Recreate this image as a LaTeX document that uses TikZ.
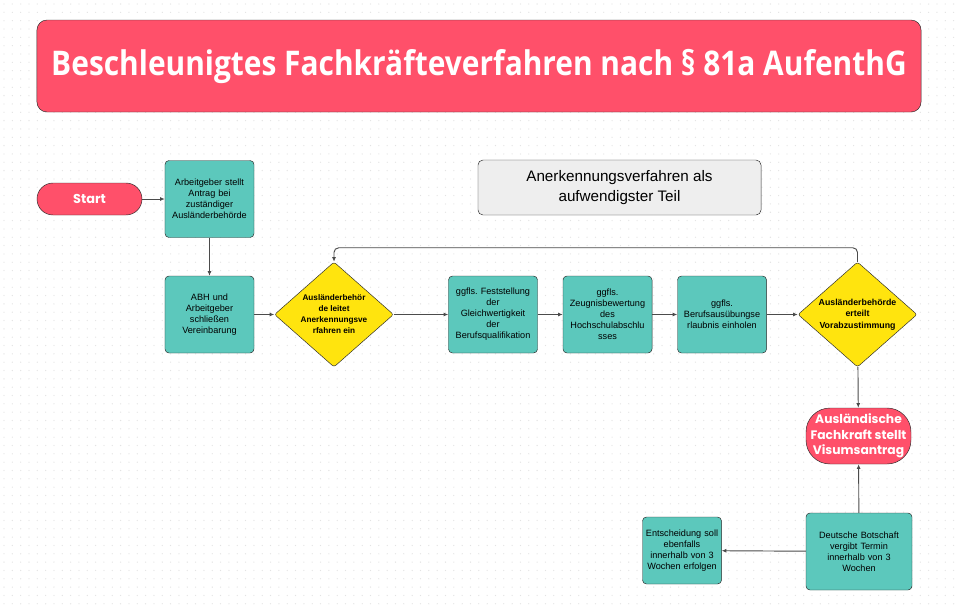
\documentclass[tikz,border=0pt]{standalone}
\usepackage{fontspec}
\setmainfont{Liberation Sans}
\newfontfamily\titlefont{Open Sans}[FakeStretch=0.88]
\newfontfamily\pillfont{Poppins}
\usepackage{tikz}
\usetikzlibrary{positioning,arrows.meta,shapes.geometric}
\usepackage{xcolor}
\definecolor{flowpink}{RGB}{255,80,106}
\definecolor{flowteal}{RGB}{92,200,188}
\definecolor{flowyellow}{RGB}{255,228,14}
\definecolor{flowline}{RGB}{43,43,43}
\definecolor{notegray}{RGB}{238,238,238}
\frenchspacing

\begin{document}
\begin{tikzpicture}[x=0.03cm, y=-0.03cm,
  stepbox/.style={draw=flowline, fill=flowteal, rounded corners=0.12cm, minimum width=2.67cm, minimum height=2.31cm, text width=2.6cm, align=center, inner sep=1pt, font=\fontsize{7.8}{9.4}\selectfont},
  decision/.style={diamond, draw=flowline, fill=flowyellow, rounded corners=2pt, minimum width=3.57cm, minimum height=3.15cm, aspect=1.13, align=center, inner sep=0pt, font=\bfseries\fontsize{7}{9.4}\selectfont},
  terminal/.style={draw=flowline, fill=flowpink, minimum width=3.15cm, text=white, align=center, inner sep=1pt, font=\pillfont\bfseries\fontsize{10.5}{13.4}\selectfont},
  arr/.style={-{Latex[length=4pt,width=3.5pt]}, draw=flowline!85, line width=0.8pt}]
% background with dot grid
\fill[white] (0,0) rectangle (955,608);
\foreach \j in {0,...,72}{
  \fill[gray!22] \foreach \i in {0,...,114}{(4+\i*8.33,4+\j*8.33) circle (0.55pt)};
}
% title and note
\node[draw=flowline, fill=flowpink, rounded corners=0.3cm, minimum width=26.52cm, minimum height=2.76cm, text=white, font=\titlefont\bfseries\fontsize{29}{32}\selectfont] (title) at (479,66) {Beschleunigtes Fachkräfteverfahren nach § 81a AufenthG};
\node[draw=flowline, fill=notegray, rounded corners=0.15cm, minimum width=8.49cm, minimum height=1.65cm, align=center, font=\fontsize{13}{17}\selectfont] (note) at (619.5,187.5) {Anerkennungsverfahren als\\aufwendigster Teil};
% flow
\node[terminal, minimum height=0.96cm, rounded corners=0.48cm, font=\pillfont\bfseries\fontsize{11}{13}\selectfont] (start) at (89.5,199) {Start};
\node[stepbox] (antrag) at (209.5,199) {Arbeitgeber stellt\\Antrag bei\\zuständiger\\Ausländerbehörde};
\node[stepbox] (vereinb) at (209.5,314.5) {ABH und\\Arbeitgeber\\schließen\\Vereinbarung};
\node[decision] (leitet) at (334,314.5) {Ausländerbehör\\de leitet\\Anerkennungsve\\rfahren ein};
\node[stepbox] (gleich) at (493,314.5) {ggfls. Feststellung\\der\\Gleichwertigkeit\\der\\Berufsqualifikation};
\node[stepbox] (zeugnis) at (607.5,314.5) {ggfls.\\Zeugnisbewertung\\des\\Hochschulabschlu\\sses};
\node[stepbox] (berufs) at (722,314.5) {ggfls.\\Berufsausübungse\\rlaubnis einholen};
\node[decision, font=\bfseries\fontsize{7.5}{10}\selectfont] (vorab) at (857.5,314.5) {Ausländerbehörde\\erteilt\\Vorabzustimmung};
\node[terminal, minimum height=1.68cm, rounded corners=0.72cm] (visum) at (858.5,436) {Ausländische\\Fachkraft stellt\\Visumsantrag};
\node[stepbox, minimum width=3.18cm] (botschaft) at (859,551.5) {Deutsche Botschaft\\vergibt Termin\\innerhalb von 3\\Wochen};
\node[stepbox, minimum width=2.34cm, minimum height=2.01cm, text width=2.3cm] (entsch) at (682,550.5) {Entscheidung soll\\ebenfalls\\innerhalb von 3\\Wochen erfolgen};
% connectors
\draw[arr] (start) -- (antrag);
\draw[arr] (antrag) -- (vereinb);
\draw[arr] (vereinb) -- (leitet);
\draw[arr] (leitet) -- (gleich);
\draw[arr] (gleich) -- (zeugnis);
\draw[arr] (zeugnis) -- (berufs);
\draw[arr] (berufs) -- (vorab);
\draw[arr, rounded corners=4pt] (vorab.north) -- ++(0,-14) -| (leitet.north);
\draw[arr] (vorab) -- (visum);
\draw[arr] (botschaft) -- (visum);
\draw[arr] (botschaft) -- (entsch);
\end{tikzpicture}
\end{document}
